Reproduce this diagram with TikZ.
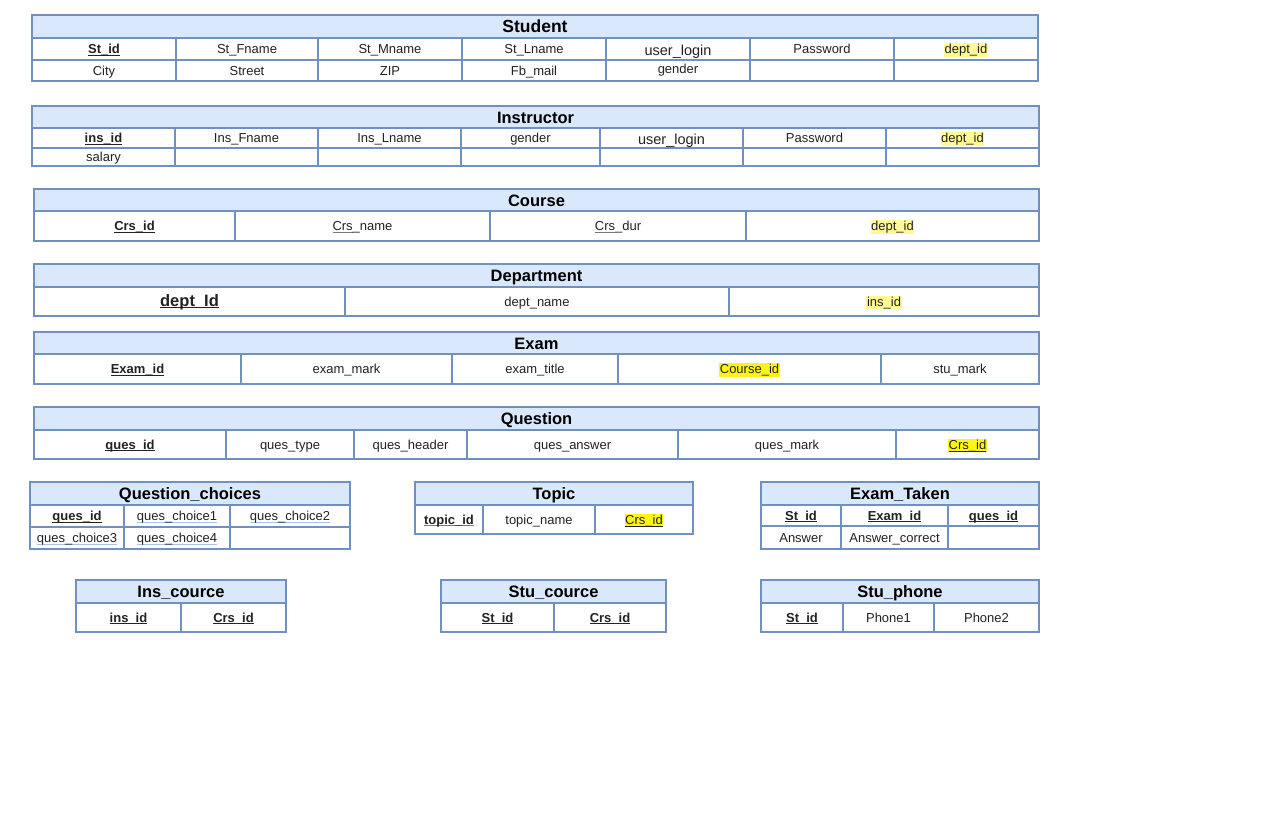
\documentclass[tikz,border=0pt]{standalone}
\usepackage{fontspec}
\setmainfont{Liberation Sans}
\usepackage{xcolor}
\definecolor{bord}{RGB}{112,145,192}
\definecolor{hdrfill}{RGB}{218,232,252}
\definecolor{txtc}{RGB}{34,34,34}
\definecolor{hlpale}{RGB}{255,250,150}
\definecolor{hlbright}{RGB}{255,245,20}
\definecolor{ulblue}{RGB}{170,195,225}
\definecolor{ulgray}{RGB}{120,120,120}

% key attribute: bold with an underline
\newcommand{\pk}[1]{\setbox0\hbox{\bfseries #1}\rlap{\color{txtc}\rule[-2.2pt]{\wd0}{1pt}}\box0}
% key attribute with a soft grey underline
\newcommand{\pkg}[1]{\setbox0\hbox{\bfseries #1}\rlap{\color{ulgray}\rule[-2.2pt]{\wd0}{1pt}}\box0}
% thin underline in a given colour
\newcommand{\cul}[2][ulblue]{\setbox0\hbox{#2}\rlap{\color{#1}\rule[-2.6pt]{\wd0}{0.8pt}}\box0}
% highlighted text
\newcommand{\hl}[2]{{\setlength{\fboxsep}{0.6pt}\colorbox{#1}{#2}}}

\newcommand{\cellfont}{\fontsize{13}{15}\selectfont}
\newcommand{\titlefont}{\fontsize{16.5}{18}\selectfont\bfseries}

\tikzset{
  hdr/.style={draw=bord, fill=hdrfill, line width=1.2pt},
  cellbox/.style={draw=bord, fill=white, line width=1.2pt},
  celltxt/.style={font=\cellfont, text=txtc, inner sep=0pt, anchor=base},
  titletxt/.style={font=\titlefont, text=black, inner sep=0pt, anchor=base},
}

% title bar of a table: name, x1, x2, y1, y2, title
\newcommand{\entity}[6]{%
  \draw[hdr] (#2,#4) rectangle (#3,#5);
  \node[titletxt] (#1) at ({(#2+#3)/2},{(#4+#5)/2+6}) {#6};}
% one row of cells: y1, y2, list of x1/x2/text
\newcommand{\cells}[3]{%
  \foreach \xa/\xb/\txt in {#3}{%
    \draw[cellbox] (\xa,#1) rectangle (\xb,#2);
    \node[celltxt] at ({(\xa+\xb)/2},{(#1+#2)/2+4.5}) {\txt};}}

\begin{document}
\begin{tikzpicture}[x=1pt,y=-1pt]
\useasboundingbox[fill=white] (0,0) rectangle (1280,828);

% Student
\entity{student}{32}{1038}{15}{38}{\fontsize{17.5}{19}\selectfont Student}
\cells{38}{60}{32/176/{\pk{St\_id}}, 176/318/St\_Fname, 318/462/St\_Mname, 462/606/St\_Lname,
  606/750/{\fontsize{14.5}{16}\selectfont\raisebox{-1.5pt}{user\_login}}, 750/894/Password, 894/1038/{\hl{hlpale}{dept\_id}}}
\cells{60}{81}{32/176/City, 176/318/Street, 318/462/ZIP, 462/606/Fb\_mail, 606/750/{\raisebox{1.5pt}{gender}}, 750/894/{}, 894/1038/{}}

% Instructor
\entity{instructor}{32}{1039}{106}{128}{Instructor}
\cells{128}{148}{32/175/{\pk{ins\_id}}, 175/318/Ins\_Fname, 318/461/Ins\_Lname, 461/600/gender,
  600/743/{\fontsize{14.5}{16}\selectfont\raisebox{-1.5pt}{user\_login}}, 743/886/Password, 886/1039/{\hl{hlpale}{dept\_id}}}
\cells{148}{166}{32/175/salary, 175/318/{}, 318/461/{}, 461/600/{}, 600/743/{}, 743/886/{}, 886/1039/{}}

% Course
\entity{course}{34}{1039}{189}{211}{Course}
\cells{211}{241}{34/235/{\pk{Crs\_id}}, 235/490/{\cul[ulgray]{Crs}\_name}, 490/746/{\cul[ulgray]{Crs}\_dur}, 746/1039/{\hl{hlpale}{dept\_id}}}

% Department
\entity{department}{34}{1039}{264}{287}{Department}
\cells{287}{316}{34/345/{\fontsize{16.5}{18}\selectfont\pk{dept\_Id}}, 345/729/dept\_name, 729/1039/{\hl{hlpale}{ins\_id}}}

% Exam
\entity{exam}{34}{1039}{332}{354}{Exam}
\cells{354}{384}{34/241/{\pk{Exam\_id}}, 241/452/exam\_mark, 452/618/exam\_title, 618/881/{\hl{hlbright}{Course\_id}}, 881/1039/stu\_mark}

% Question
\entity{question}{34}{1039}{407}{430}{Question}
\cells{430}{459}{34/226/{\pk{ques\_id}}, 226/354/ques\_type, 354/467/ques\_header, 467/678/ques\_answer, 678/896/ques\_mark,
  896/1039/{\hl{hlbright}{\cul[txtc]{Crs\_id}}}}

% Question_choices
\entity{qchoices}{30}{350}{482}{505}{Question\_choices}
\cells{505}{527}{30/124/{\pk{ques\_id}}, 124/230/{\cul{ques\_choice1}}, 230/350/{\cul{ques\_choice2}}}
\cells{527}{549}{30/124/{\cul{ques\_choice3}}, 124/230/{\cul{ques\_choice4}}, 230/350/{}}

% Topic
\entity{topic}{415}{693}{482}{505}{Topic}
\cells{505}{534}{415/483/{\pkg{topic\_id}}, 483/595/topic\_name, 595/693/{\hl{hlbright}{\cul[txtc]{Crs\_id}}}}

% Exam_Taken
\entity{examtaken}{761}{1039}{482}{505}{Exam\_Taken}
\cells{505}{526}{761/841/{\pk{St\_id}}, 841/948/{\pk{Exam\_id}}, 948/1039/{\pk{ques\_id}}}
\cells{526}{549}{761/841/Answer, 841/948/Answer\_correct, 948/1039/{}}

% Ins_cource
\entity{inscource}{76}{286}{580}{603}{Ins\_cource}
\cells{603}{632}{76/181/{\pk{ins\_id}}, 181/286/{\pk{Crs\_id}}}

% Stu_cource
\entity{stucource}{441}{666}{580}{603}{Stu\_cource}
\cells{603}{632}{441/554/{\pk{St\_id}}, 554/666/{\pk{Crs\_id}}}

% Stu_phone
\entity{stuphone}{761}{1039}{580}{603}{Stu\_phone}
\cells{603}{632}{761/843/{\pk{St\_id}}, 843/934/Phone1, 934/1039/Phone2}

\end{tikzpicture}
\end{document}
